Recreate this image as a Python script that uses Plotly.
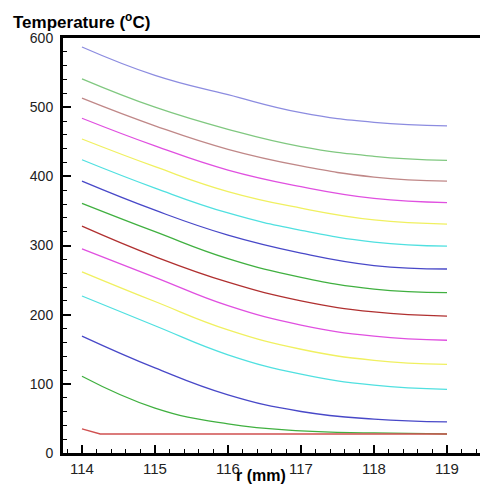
import plotly.graph_objects as go

r_mm = [114, 115, 116, 117, 118, 119]

series = [
    ("#8c8ce0", [587, 546, 518, 492, 478, 473]),
    ("#80c880", [541, 500, 468, 443, 429, 423]),
    ("#c08888", [513, 473, 439, 415, 399, 393]),
    ("#e050e0", [484, 444, 409, 385, 368, 362]),
    ("#f0f060", [454, 414, 378, 354, 337, 331]),
    ("#50e0e0", [424, 383, 347, 322, 305, 299]),
    ("#4848c8", [393, 351, 315, 289, 271, 266]),
    ("#40b040", [361, 320, 281, 254, 237, 232]),
    ("#b03030", [328, 284, 247, 220, 204, 198]),
    ("#e050e0", [295, 254, 213, 185, 169, 163]),
    ("#f0f060", [262, 219, 178, 150, 134, 128]),
    ("#50e0e0", [227, 184, 142, 114, 98, 92]),
    ("#4848c8", [169, 123, 84, 60, 49, 45]),
    ("#40b040", [111, 65, 42, 32, 29, 27.5]),
]

r_low = [114, 114.25, 115, 116, 117, 118, 119]
t_low = [35, 27.5, 27.5, 27.5, 27.5, 27.5, 27.5]

fig = go.Figure()
for color, vals in series:
    fig.add_trace(go.Scatter(x=r_mm, y=vals, mode="lines",
                             line=dict(color=color, width=1.3, shape="spline", smoothing=1.3),
                             showlegend=False, hoverinfo="skip"))
fig.add_trace(go.Scatter(x=r_low, y=t_low, mode="lines",
                         line=dict(color="#d05050", width=1.3),
                         showlegend=False, hoverinfo="skip"))

fig.update_layout(
    width=480, height=491,
    margin=dict(l=63, r=0, t=38, b=38),
    paper_bgcolor="white", plot_bgcolor="white",
    font=dict(family="Liberation Sans, Arial, sans-serif", size=14, color="#222"),
    xaxis=dict(range=[113.74, 119.452], tickvals=[114, 115, 116, 117, 118, 119],
               ticks="inside", ticklen=8, tickwidth=2, tickcolor="black",
               tickfont=dict(size=15),
               showline=True, linewidth=3, linecolor="black", mirror=True,
               showgrid=False, zeroline=False,
               minor=dict(dtick=0.2, tick0=114, ticks="inside", ticklen=4, tickwidth=1,
                          tickcolor="black", showgrid=False)),
    yaxis=dict(range=[0, 600], dtick=100,
               ticks="inside", ticklen=8, tickwidth=2, tickcolor="black",
               tickfont=dict(size=14), ticklabelstandoff=4,
               showline=True, linewidth=3, linecolor="black", mirror=False,
               showgrid=False, zeroline=False,
               minor=dict(dtick=20, ticks="inside", ticklen=4, tickwidth=1,
                          tickcolor="black", showgrid=False)),
    annotations=[
        dict(text="<b>Temperature (<sup>o</sup>C)</b>", xref="paper", yref="paper",
             x=-0.125, y=1.041, xanchor="left", yanchor="middle", showarrow=False,
             font=dict(size=17, color="black")),
        dict(text="<b>r (mm)</b>", xref="paper", yref="paper",
             x=0.475, y=-0.055, xanchor="center", yanchor="middle", showarrow=False,
             font=dict(size=16, color="black")),
    ],
)

fig.write_html("out.html", config={"displayModeBar": False},
               post_script="document.body.style.margin='0';document.body.style.overflow='hidden';")
